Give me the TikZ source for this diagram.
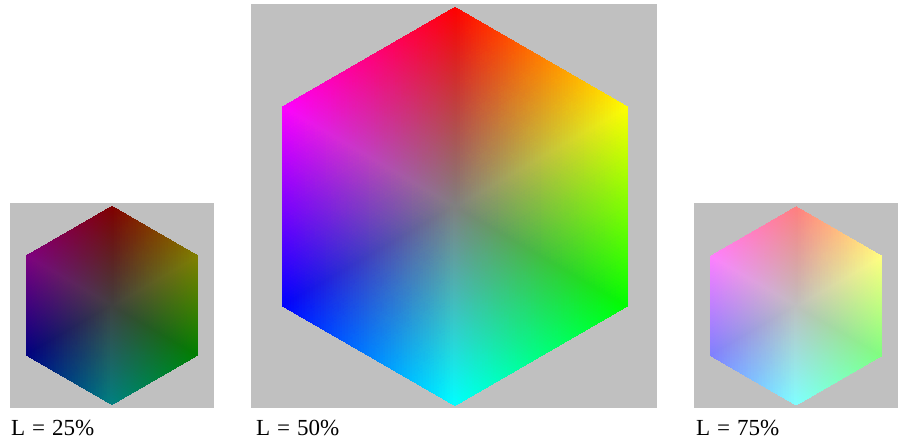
\documentclass[tikz,border=0pt]{standalone}
\usepackage{fontspec}
\setmainfont{Liberation Serif}
\usepackage{pgfplots}
\pgfplotsset{compat=1.18}
\definecolor{panelgrey}{RGB}{192,192,192}
\begin{document}
\begin{tikzpicture}[x=1pt,y=1pt,
  panel/.style={fill=panelgrey},
  lab/.style={anchor=base west, inner sep=0pt, font=\fontsize{23}{27}\selectfont}]
\useasboundingbox (0,0) rectangle (898,443);
\fill[white] (0,0) rectangle (898,443);
% grey panels
\fill[panel] (10,34.7) rectangle (214,239.5);
\fill[panel] (251,34.7) rectangle (657,439);
\fill[panel] (694,34.7) rectangle (898,239.5);
\begin{axis}[hide axis, scale only axis, width=898pt, height=443pt,
  xmin=0, xmax=898, ymin=0, ymax=443, enlargelimits=false,
  anchor=south west, at={(0,0)}, clip=false]
% L = 25%
\addplot[patch, patch type=triangle, shader=interp, mesh/color input=explicit]
table[meta=c] {
x y c
112 137.5 rgb=0.25,0.25,0.25
112 236.5 rgb=0.5,0,0
197.74 187 rgb=0.5,0.5,0
112 137.5 rgb=0.25,0.25,0.25
197.74 187 rgb=0.5,0.5,0
197.74 88 rgb=0,0.5,0
112 137.5 rgb=0.25,0.25,0.25
197.74 88 rgb=0,0.5,0
112 38.5 rgb=0,0.5,0.5
112 137.5 rgb=0.25,0.25,0.25
112 38.5 rgb=0,0.5,0.5
26.26 88 rgb=0,0,0.5
112 137.5 rgb=0.25,0.25,0.25
26.26 88 rgb=0,0,0.5
26.26 187 rgb=0.5,0,0.5
112 137.5 rgb=0.25,0.25,0.25
26.26 187 rgb=0.5,0,0.5
112 236.5 rgb=0.5,0,0
};
% L = 50%
\addplot[patch, patch type=triangle, shader=interp, mesh/color input=explicit]
table[meta=c] {
x y c
455 236.5 rgb=0.5,0.5,0.5
455 435.5 rgb=1,0,0
627.34 336 rgb=1,1,0
455 236.5 rgb=0.5,0.5,0.5
627.34 336 rgb=1,1,0
627.34 137 rgb=0,1,0
455 236.5 rgb=0.5,0.5,0.5
627.34 137 rgb=0,1,0
455 37.5 rgb=0,1,1
455 236.5 rgb=0.5,0.5,0.5
455 37.5 rgb=0,1,1
282.66 137 rgb=0,0,1
455 236.5 rgb=0.5,0.5,0.5
282.66 137 rgb=0,0,1
282.66 336 rgb=1,0,1
455 236.5 rgb=0.5,0.5,0.5
282.66 336 rgb=1,0,1
455 435.5 rgb=1,0,0
};
% L = 75%
\addplot[patch, patch type=triangle, shader=interp, mesh/color input=explicit]
table[meta=c] {
x y c
796.2 137 rgb=0.75,0.75,0.75
796.2 236 rgb=1,0.5,0.5
881.94 186.5 rgb=1,1,0.5
796.2 137 rgb=0.75,0.75,0.75
881.94 186.5 rgb=1,1,0.5
881.94 87.5 rgb=0.5,1,0.5
796.2 137 rgb=0.75,0.75,0.75
881.94 87.5 rgb=0.5,1,0.5
796.2 38 rgb=0.5,1,1
796.2 137 rgb=0.75,0.75,0.75
796.2 38 rgb=0.5,1,1
710.46 87.5 rgb=0.5,0.5,1
796.2 137 rgb=0.75,0.75,0.75
710.46 87.5 rgb=0.5,0.5,1
710.46 186.5 rgb=1,0.5,1
796.2 137 rgb=0.75,0.75,0.75
710.46 186.5 rgb=1,0.5,1
796.2 236 rgb=1,0.5,0.5
};
\end{axis}
% labels
\node[lab] (l25) at (11,7) {L\hspace{0.3em}=\hspace{0.3em}25\%};
\node[lab] (l50) at (256,7) {L\hspace{0.3em}=\hspace{0.3em}50\%};
\node[lab] (l75) at (696,7) {L\hspace{0.3em}=\hspace{0.3em}75\%};
\end{tikzpicture}
\end{document}
